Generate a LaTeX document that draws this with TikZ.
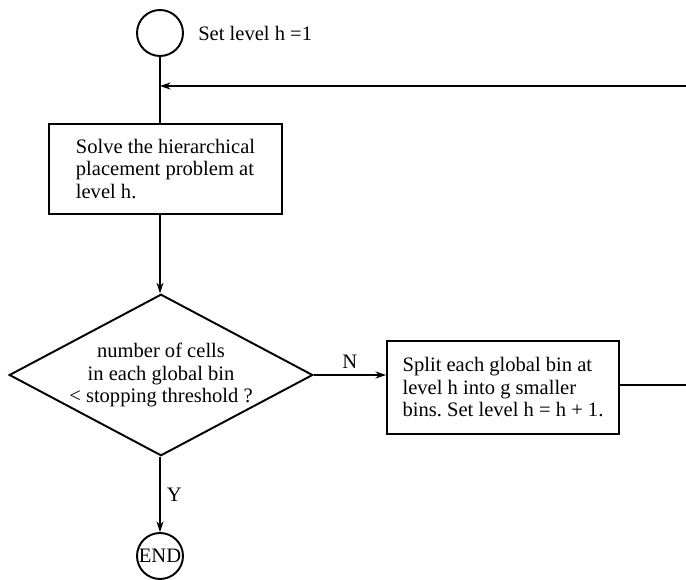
\documentclass[tikz,border=0pt]{standalone}
\usepackage{fontspec}
\setmainfont{Liberation Serif}
\usetikzlibrary{shapes.geometric,positioning,arrows.meta}
\frenchspacing

\begin{document}
\begin{tikzpicture}[x=0.02cm, y=-0.02cm, line width=1.1pt,
  font=\fontsize{11.7}{12.8}\selectfont,
  term/.style={draw, shape=circle, minimum size=0.92cm, inner sep=0pt},
  proc/.style={draw, shape=rectangle, align=left},
  >={Stealth[length=6pt, width=4pt]}]
\useasboundingbox (0,0) rectangle (686,580);
\node[term] (start) at (160,33) {};
\node[right=0.15cm of start] (init) {Set level h =1};
\node[proc, minimum width=4.66cm, minimum height=1.8cm] (solve) at (165.5,169) {Solve the hierarchical\\placement problem at\\level h.};
\node[draw, shape=diamond, shape aspect=1.88, inner sep=0pt, minimum width=6.02cm, minimum height=3.2cm, align=center] (check) at (161,375) {number of cells\\in each global bin\\< stopping threshold ?};
\node[proc, minimum width=4.64cm, minimum height=1.86cm] (split) at (503,387.5) {Split each global bin at\\level h into g smaller\\bins. Set level h = h + 1.};
\node[term] (end) at (160,556) {END};
\coordinate (loopout) at (686,385);
\coordinate (loopin) at (686,86);
\draw (start) -- (start |- solve.north);
\draw[->] (loopin) -- (start |- loopin);
\draw[->] (start |- solve.south) -- (check.north -| start);
\draw[->] (check.east) -- (check.east -| split.west) node[midway, above] {N};
\draw[->] (check.south -| start) -- (end) node[midway, right] {Y};
\draw (split.east |- loopout) -- (loopout);
\end{tikzpicture}
\end{document}
